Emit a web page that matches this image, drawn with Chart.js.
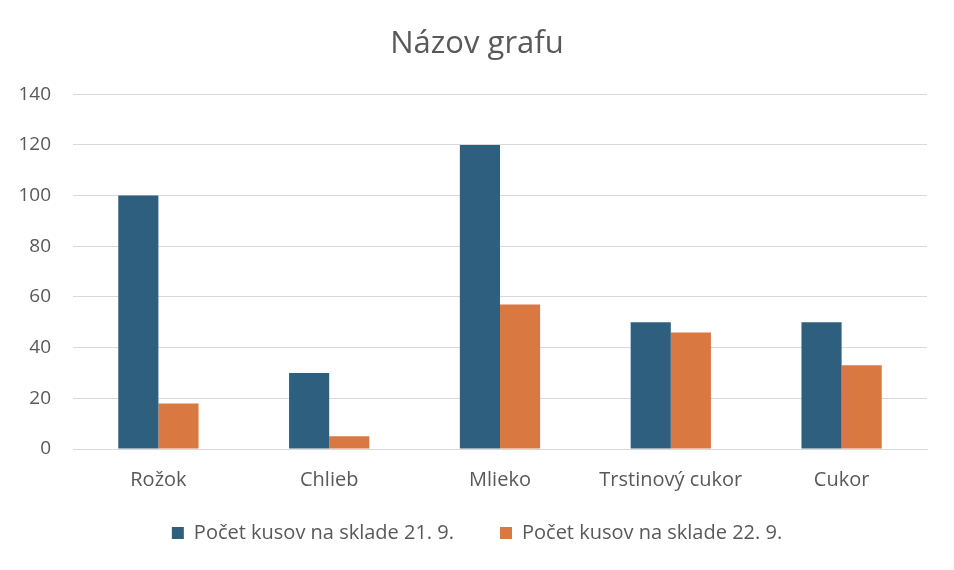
<!DOCTYPE html>
<html>
<head>
<meta charset="utf-8">
<script src="https://cdn.jsdelivr.net/npm/chart.js@4/dist/chart.umd.min.js"></script>
<style>
  html, body { margin: 0; padding: 0; background: #fff; }
  #wrap { width: 954px; height: 570px; position: relative; }
</style>
</head>
<body>
<div id="wrap"><canvas id="c"></canvas></div>
<script>
const categories = ["Rožok", "Chlieb", "Mlieko", "Trstinový cukor", "Cukor"];
const stock219 = [100, 30, 120, 50, 50];
const stock229 = [18, 5, 57, 46, 33];
const seriesNames = ["Počet kusov na sklade 21. 9.", "Počet kusov na sklade 22. 9."];
const yTicks = [0, 20, 40, 60, 80, 100, 120, 140];

const FONT = "'Open Sans', sans-serif";
const grey = '#595959';

new Chart(document.getElementById('c'), {
  type: 'bar',
  data: {
    labels: categories,
    datasets: [
      { label: seriesNames[0], data: stock219, backgroundColor: '#2e5f7f', borderColor: '#2e5f7f', borderWidth: 0 },
      { label: seriesNames[1], data: stock229, backgroundColor: '#d97841', borderColor: '#d97841', borderWidth: 0 }
    ]
  },
  options: {
    responsive: true,
    maintainAspectRatio: false,
    animation: false,
    layout: { padding: { left: 0, right: 0, top: 26, bottom: 17 } },
    datasets: { bar: { barPercentage: 1, categoryPercentage: 0.47 } },
    plugins: {
      title: {
        display: true,
        text: 'Názov grafu',
        color: grey,
        font: { family: FONT, size: 31, weight: 'normal' },
        padding: { top: 0, bottom: 31 }
      },
      legend: {
        position: 'bottom',
        labels: {
          color: grey,
          font: { family: FONT, size: 20 },
          boxWidth: 12,
          boxHeight: 12,
          padding: 20,
          // wider gap between the two entries, like the original
          generateLabels: chart => {
            const items = Chart.defaults.plugins.legend.labels.generateLabels(chart);
            items.forEach((it, i) => { if (i < items.length - 1) it.text += '     '; });
            return items;
          }
        }
      },
      tooltip: { enabled: false }
    },
    scales: {
      x: {
        grid: { display: false },
        border: { color: '#d9d9d9', width: 1 },
        ticks: { color: grey, font: { family: FONT, size: 20 }, padding: 11 }
      },
      y: {
        min: 0,
        max: 140,
        afterFit: s => { s.width = 73; },
        afterBuildTicks: s => { s.ticks = yTicks.map(v => ({ value: v })); },
        grid: { color: '#d9d9d9', lineWidth: 1, drawTicks: false },
        border: { display: false },
        ticks: { color: grey, font: { family: FONT, size: 19 }, padding: 22 }
      },
      // empty right margin so the title and legend centre like the original
      yRight: {
        position: 'right',
        min: 0,
        max: 140,
        afterFit: s => { s.width = 27; },
        grid: { display: false },
        border: { display: false },
        ticks: { display: false }
      }
    }
  }
});
</script>
</body>
</html>
